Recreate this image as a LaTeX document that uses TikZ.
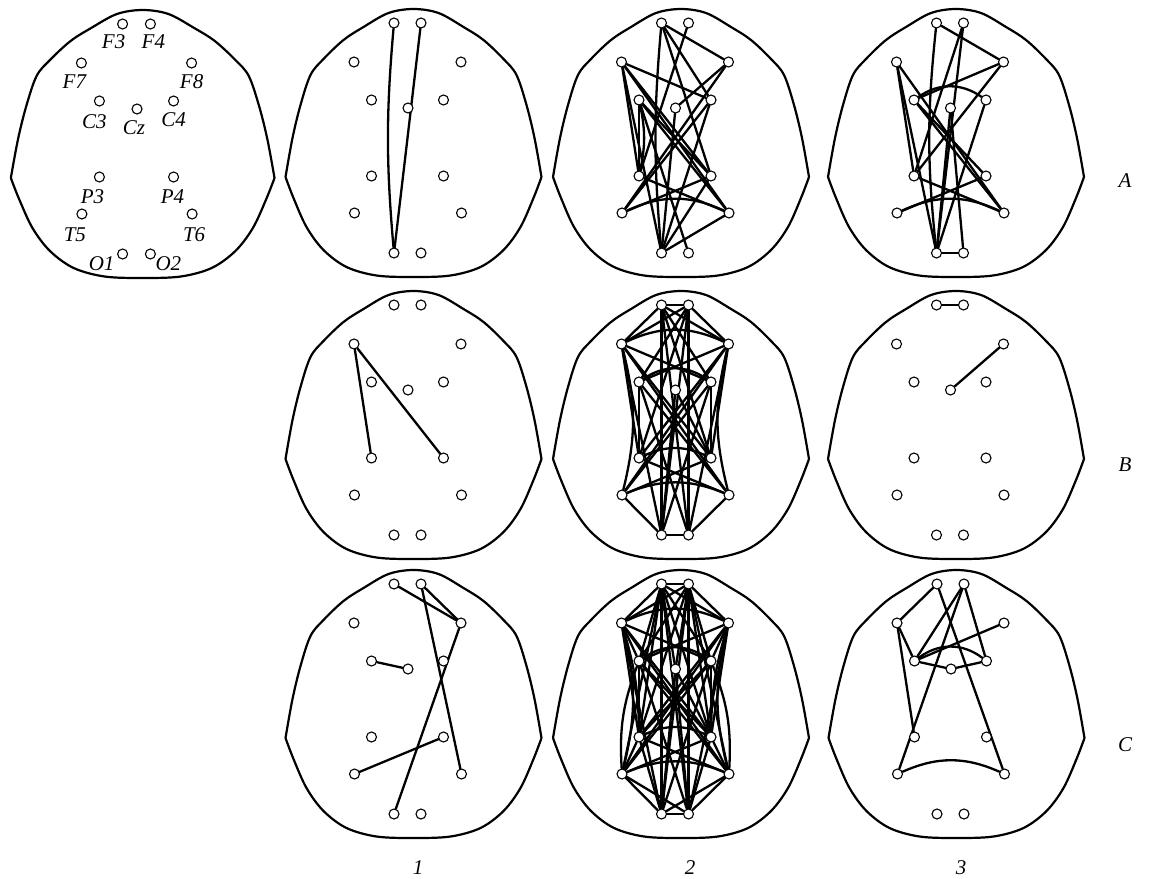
\documentclass[tikz,border=0pt]{standalone}
\usepackage{fontspec}
\setmainfont{Liberation Serif}
\usetikzlibrary{calc}
\pgfdeclarelayer{bg}
\pgfsetlayers{bg,main}
\tikzset{
  outline/.style={line width=2.2pt, line join=round},
  el/.style={circle, draw, fill=white, line width=1.1pt, minimum size=10pt, inner sep=0pt},
  conn/.style={line width=2.3pt, line cap=round},
  lab/.style={font=\fontsize{21}{21}\selectfont\itshape, inner sep=0pt},
}
\newcommand\eeghead[4][]{%
\begin{scope}[shift={(#3,#4)},#1]
\begin{pgfonlayer}{bg}
\draw[outline] plot[smooth,tension=0.55] coordinates {(-122,154) (-115,115) (-107,82) (-97,52) (-84,36) (-64,17) (-44,4) (-19,-10) (6,-14) (31,-10) (56,4) (76,17) (96,36) (109,52) (119,82) (127,115) (134,154)};
\draw[outline] plot[smooth,tension=0.55] coordinates {(134,154) (126,175) (113,204) (96,227) (73,244) (43,252.5) (6,254) (-31,252.5) (-61,244) (-84,227) (-101,204) (-114,175) (-122,154)};
\end{pgfonlayer}
\node[el] (#2F3) at (-13.5,0) {};
\node[el] (#2F4) at (13.5,0) {};
\node[el] (#2F7) at (-53.5,39) {};
\node[el] (#2F8) at (53.5,39) {};
\node[el] (#2C3) at (-36,77) {};
\node[el] (#2C4) at (36,77) {};
\node[el] (#2Cz) at (0.5,85) {};
\node[el] (#2P3) at (-36,153) {};
\node[el] (#2P4) at (36,153) {};
\node[el] (#2T5) at (-53,190) {};
\node[el] (#2T6) at (54,190) {};
\node[el] (#2O1) at (-13.5,230) {};
\node[el] (#2O2) at (13.5,230) {};
\end{scope}}
\begin{document}
\begin{tikzpicture}[x=1pt,y=-1pt]
\useasboundingbox (0,0) rectangle (1159,878);
% heads
\eeghead[xscale=1.03]{t}{136.5}{24}
\eeghead{aa}{407.5}{23}
\eeghead{ab}{675}{23}
\eeghead{ac}{950}{23}
\eeghead{ba}{407.5}{305}
\eeghead{bb}{675}{305}
\eeghead{bc}{950}{305}
\eeghead{ca}{407.5}{584}
\eeghead{cb}{675}{584}
\eeghead{cc}{950.5}{584}
% template labels
\node[lab] (lF3) at ($(tF3)+(-9,18)$) {F3};
\node[lab] (lF4) at ($(tF4)+(3,18)$) {F4};
\node[lab] (lF7) at ($(tF7)+(-7,19)$) {F7};
\node[lab] (lF8) at ($(tF8)+(0,19)$) {F8};
\node[lab] (lC3) at ($(tC3)+(-5,21)$) {C3};
\node[lab] (lCz) at ($(tCz)+(-3,19)$) {Cz};
\node[lab] (lC4) at ($(tC4)+(0,19)$) {C4};
\node[lab] (lP3) at ($(tP3)+(-7,20)$) {P3};
\node[lab] (lP4) at ($(tP4)+(-1,20)$) {P4};
\node[lab] (lT5) at ($(tT5)+(-7,21)$) {T5};
\node[lab] (lT6) at ($(tT6)+(2,21)$) {T6};
\node[lab] (lO1) at ($(tO1)+(-21,10)$) {O1};
\node[lab] (lO2) at ($(tO2)+(18,10)$) {O2};
% row / column labels
\node[lab] (rA) at (1125,181) {A};
\node[lab] (rB) at (1125,465) {B};
\node[lab] (rC) at (1125,745) {C};
\node[lab] (c1) at (418,868) {1};
\node[lab] (c2) at (690,868) {2};
\node[lab] (c3) at (961,868) {3};
% connections
\begin{pgfonlayer}{bg}
% A1
\draw[conn] (aaF3) to[bend right=5] (aaO1);
\draw[conn] (aaF4) -- (aaO1);
% A2
\foreach \u/\v in {F3/F8,F3/C4,F3/P4,F4/P3,F7/C4,F7/P4,F7/T6,F7/P3,F7/O1,F8/Cz,F8/T5,C3/P3,C3/T6,C3/P4,C4/O1,C4/T5,Cz/O1,P3/T6,T5/P4,T6/O1,O2/C3,P4/O1}
  \draw[conn] (ab\u) -- (ab\v);
\draw[conn] (abF3) to[bend right=5] (abO1);
\draw[conn] (abC3) to[bend left=12] (abP3);
\draw[conn] (abT5) to[bend left=25] (abT6);
% A3
\foreach \u/\v in {F3/F8,F4/P3,F4/O1,F8/C3,F8/P3,F7/O1,F7/P3,F7/T6,C3/T6,C3/P4,Cz/O1,Cz/O2,C4/O1,P4/T5,O1/O2,P3/T6}
  \draw[conn] (ac\u) -- (ac\v);
\draw[conn] (acF3) to[bend right=6] (acO1);
\draw[conn] (acC3) to[bend left=35] (acC4);
\draw[conn] (acT5) to[bend left=25] (acT6);
% B1
\draw[conn] (baF7) -- (baP3);
\draw[conn] (baF7) -- (baP4);
% B2
\foreach \u/\v in {F3/F4,F3/F7,F4/F8,F3/F8,F4/F7,F7/C4,F8/C3,F7/P3,F8/P4,F7/P4,F8/P3,F3/O1,F3/O2,F4/O1,F4/O2,F3/P4,F4/P3,Cz/O1,T5/O1,T6/O2,T5/P4,T6/P3,O1/O2,C3/O2,C4/O1,C3/T6,C4/T5,F7/O1,F8/O2,C3/P3,C4/P4,F7/T6,F8/T5,F3/C4,F4/C3,Cz/P4}
  \draw[conn] (bb\u) -- (bb\v);
\draw[conn] (bbF7) to[bend left=25] (bbF8);
\draw[conn] (bbC3) to[bend left=35] (bbC4);
\draw[conn] (bbP3) to[bend left=25] (bbP4);
\draw[conn] (bbT5) to[bend left=22] (bbT6);
\draw[conn] (bbF7) to[bend left=14] (bbT5);
\draw[conn] (bbF8) to[bend right=14] (bbT6);
% B3
\draw[conn] (bcF3) -- (bcF4);
\draw[conn] (bcF8) -- (bcCz);
% C1
\foreach \u/\v in {F3/F8,F4/F8,F4/T6,F8/O1,C3/Cz,T5/P4}
  \draw[conn] (ca\u) -- (ca\v);
% C2
\foreach \u/\v in {F3/F4,F3/F7,F4/F8,F3/F8,F4/F7,F7/C4,F8/C3,F7/P3,F8/P4,F7/P4,F8/P3,F3/O1,F3/O2,F4/O1,F4/O2,F3/P4,F4/P3,Cz/O1,T5/O1,T6/O2,T5/P4,T6/P3,O1/O2,C3/O2,C4/O1,C3/T6,C4/T5,F7/O1,F8/O2,C3/P3,C4/P4,F7/T6,F8/T5,F3/C4,F4/C3,Cz/P4,F3/C3,F4/C4,Cz/F3,Cz/F4,Cz/O2,C3/P4,C4/P3,F7/C3,F8/C4,P3/T5,P4/T6,O1/T6,O2/T5,F3/T5,F4/T6,F3/P3,F4/P4,O1/P3,O2/P4}
  \draw[conn] (cb\u) -- (cb\v);
\draw[conn] (cbF7) to[bend left=25] (cbF8);
\draw[conn] (cbC3) to[bend left=35] (cbC4);
\draw[conn] (cbP3) to[bend left=25] (cbP4);
\draw[conn] (cbT5) to[bend left=22] (cbT6);
\draw[conn] (cbF7) to[bend left=14] (cbT5);
\draw[conn] (cbF8) to[bend right=14] (cbT6);
\draw[conn] (cbF7) to[bend left=8] (cbP3);
\draw[conn] (cbF8) to[bend right=8] (cbP4);
\draw[conn] (cbC3) to[bend right=12] (cbT5);
\draw[conn] (cbC4) to[bend left=12] (cbT6);
% C3
\foreach \u/\v in {F3/F7,F7/C3,F7/P3,F3/T6,F4/C3,F4/T5,F4/C4,F8/C3,C3/Cz,Cz/C4}
  \draw[conn] (cc\u) -- (cc\v);
\draw[conn] (ccC3) to[bend left=37] (ccC4);
\draw[conn] (ccT5) to[bend left=24] (ccT6);
\end{pgfonlayer}
\end{tikzpicture}
\end{document}
